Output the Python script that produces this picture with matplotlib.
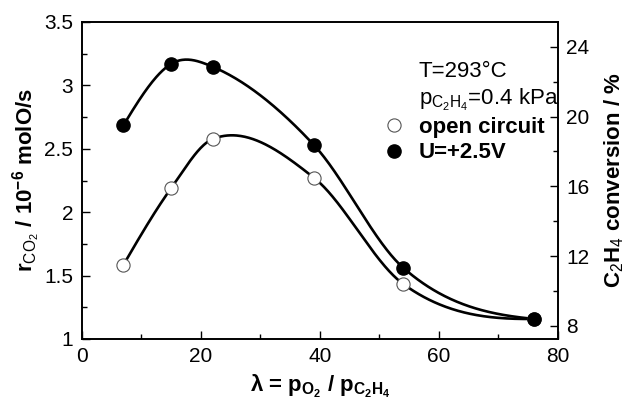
import numpy as np
import matplotlib
matplotlib.use('Agg')
import matplotlib.pyplot as plt
from matplotlib.lines import Line2D
from matplotlib.ticker import MultipleLocator

plt.rcParams['font.family'] = ['Liberation Sans', 'DejaVu Sans']
plt.rcParams['mathtext.fontset'] = 'custom'
plt.rcParams['mathtext.rm'] = 'Liberation Sans'
plt.rcParams['mathtext.bf'] = 'Liberation Sans:bold'
plt.rcParams['mathtext.it'] = 'Liberation Sans:italic'

# data
lam = [7, 15, 22, 39, 54, 76]
rate_open = [1.584, 2.188, 2.577, 2.272, 1.434, 1.158]
rate_on = [2.685, 3.169, 3.147, 2.53, 1.562, 1.158]


def smooth_curve(x, y, n=400):
    # cubic hermite through the points, tangents = mix of
    # simple differences and 3-point parabola slopes
    x = np.asarray(x, float)
    y = np.asarray(y, float)
    h = np.diff(x)
    d = np.diff(y) / h
    m = np.zeros(len(x))
    for i in range(1, len(x) - 1):
        central = (y[i + 1] - y[i - 1]) / (x[i + 1] - x[i - 1])
        parab = (h[i - 1] * d[i] + h[i] * d[i - 1]) / (h[i - 1] + h[i])
        m[i] = 0.5 * (central + parab)
    p0 = ((2 * h[0] + h[1]) * d[0] - h[0] * d[1]) / (h[0] + h[1])
    pn = ((2 * h[-1] + h[-2]) * d[-1] - h[-1] * d[-2]) / (h[-1] + h[-2])
    m[0] = 0.5 * (d[0] + p0)
    m[-1] = 0.5 * (d[-1] + pn)
    xs = np.linspace(x[0], x[-1], n)
    idx = np.clip(np.searchsorted(x, xs) - 1, 0, len(x) - 2)
    hh = h[idx]
    t = (xs - x[idx]) / hh
    h00 = 2 * t**3 - 3 * t**2 + 1
    h10 = t**3 - 2 * t**2 + t
    h01 = -2 * t**3 + 3 * t**2
    h11 = t**3 - t**2
    ys = h00 * y[idx] + h10 * hh * m[idx] + h01 * y[idx + 1] + h11 * hh * m[idx + 1]
    return xs, ys


fig = plt.figure(figsize=(6.25, 4.04), dpi=100)
ax = fig.add_axes([81.7 / 625, 1 - 339 / 404, (558 - 81.7) / 625, (339 - 22) / 404])

for ys in (rate_open, rate_on):
    sx, sy = smooth_curve(lam, ys)
    ax.plot(sx, sy, color='black', lw=1.9, zorder=2)

ax.plot(lam, rate_open, 'o', ms=9.5, mfc='white', mec='#555555', mew=0.8, zorder=3)
ax.plot(lam, rate_on, 'o', ms=9.5, mfc='black', mec='black', zorder=4)

ax.set_xlim(0, 80)
ax.set_ylim(1, 3.5)
ax.xaxis.set_major_locator(MultipleLocator(20))
ax.xaxis.set_minor_locator(MultipleLocator(10))
ax.yaxis.set_major_locator(MultipleLocator(0.5))
ax.yaxis.set_minor_locator(MultipleLocator(0.25))
ax.tick_params(which='both', direction='in', labelsize=15, width=1)
ax.tick_params(which='major', length=6, pad=6)
ax.tick_params(which='minor', length=3.5)
ax.set_yticks([1, 1.5, 2, 2.5, 3, 3.5], ['1', '1.5', '2', '2.5', '3', '3.5'])

ax2 = ax.twinx()
ax2.set_ylim(7.24, 25.42)
ax2.yaxis.set_major_locator(MultipleLocator(4))
ax2.yaxis.set_minor_locator(MultipleLocator(2))
ax2.tick_params(which='both', direction='in', labelsize=15, width=1)
ax2.tick_params(which='major', length=6, pad=6)
ax2.tick_params(which='minor', length=3.5)

for a in (ax, ax2):
    for s in a.spines.values():
        s.set_linewidth(1.2)

ax.set_xlabel(r'$\mathbf{\lambda}$ = p$_{\mathbf{O_2}}$ / p$_{\mathbf{C_2H_4}}$',
              fontsize=16, fontweight='bold', labelpad=5)
ax.set_ylabel(r'r$_{\mathrm{CO_2}}$ / 10$^{\mathbf{-6}}$ molO/s',
              fontsize=16, fontweight='bold', labelpad=1)
ax2.set_ylabel(r'C$_{\mathrm{2}}$H$_{\mathrm{4}}$ conversion / %',
               fontsize=16, fontweight='bold', labelpad=9)

blank = Line2D([], [], linestyle='none')
h_open = Line2D([], [], marker='o', ls='none', ms=9.5, mfc='white', mec='#555555', mew=0.8)
h_on = Line2D([], [], marker='o', ls='none', ms=9.5, mfc='black', mec='black')
leg = ax.legend([blank, blank, h_open, h_on],
                ['T=293°C', r'p$_{\mathrm{C_2H_4}}$=0.4 kPa', 'open circuit', 'U=+2.5V'],
                loc='upper left', bbox_to_anchor=(0.633, 0.877), frameon=False,
                fontsize=16, handlelength=1.0, handletextpad=0.6,
                labelspacing=0.2, borderpad=0, borderaxespad=0)
for t in leg.get_texts()[2:]:
    t.set_fontweight('bold')

fig.savefig('out.png', dpi=100)
